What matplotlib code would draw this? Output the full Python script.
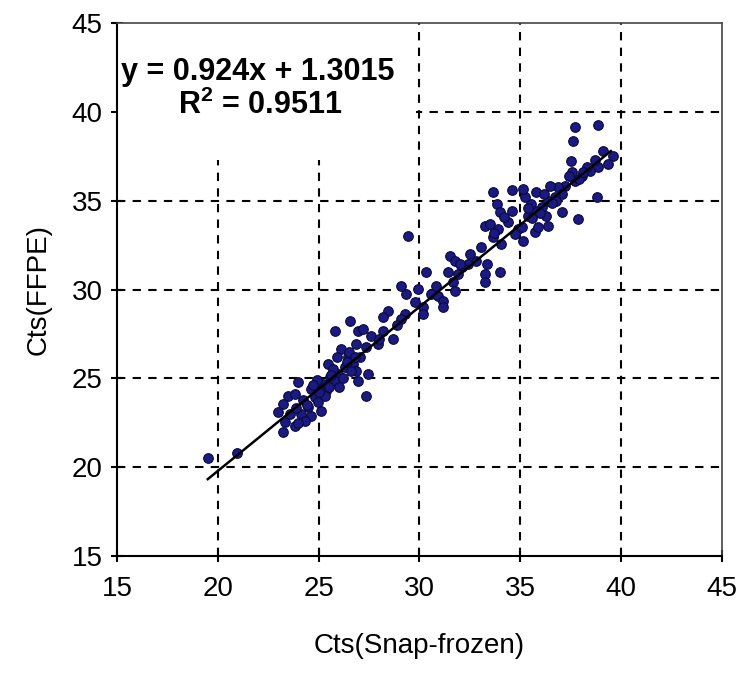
import matplotlib
matplotlib.use("Agg")
import matplotlib.pyplot as plt
from matplotlib.patches import Rectangle
import numpy as np

# Data (Ct values)
snap_frozen = [
    19.5, 20.95,
    37.71, 38.87, 37.63, 37.52, 39.12, 39.62, 39.37, 38.87, 38.46, 38.05,
    37.55, 37.72, 37.20, 36.89, 36.47, 37.05, 36.72, 38.79, 37.05, 37.88,
    36.39, 36.06, 36.30, 36.39, 35.73, 35.56, 35.23, 35.15, 34.57, 35.40,
    35.73, 35.90, 34.90, 34.74, 35.15, 35.07, 33.66, 33.83, 33.99, 33.25,
    33.49, 33.90, 33.66, 34.07, 33.08, 32.83, 33.33, 33.25, 33.25, 33.99,
    32.42, 32.09, 31.50, 31.75, 32.00, 31.92, 31.67, 31.75, 30.35, 29.44,
    29.10, 29.35, 29.93, 29.77, 30.18, 30.60, 30.93, 31.18, 31.18, 30.18,
    29.27, 29.10, 28.44, 28.20, 28.69, 28.20, 27.95, 27.62, 27.37, 27.45,
    27.37, 26.95, 26.54, 26.87, 25.79, 26.13, 26.46, 26.70, 27.04, 26.87,
    26.95, 26.29, 25.96, 25.46, 25.55, 25.20, 25.79, 24.97, 24.80, 25.38,
    23.97, 23.48, 23.81, 23.23, 22.98, 23.31, 23.81, 24.14, 24.47, 24.64,
    24.97, 25.13, 24.30, 23.23,
    24.2, 24.6, 25.3, 25.7, 26.2, 26.5, 25.9, 26.0, 24.9, 23.6, 24.0, 25.5,
    26.8, 27.2, 35.8, 36.8, 36.2, 37.4, 38.3, 34.4, 35.4, 32.5, 31.4, 30.8,
    28.9, 28.0, 33.7, 34.2, 36.6, 38.7,
    24.4, 25.0, 25.6, 26.4, 26.6, 23.9, 24.7, 36.0, 35.6, 37.9, 38.1, 34.6,
]
ffpe = [
    20.5, 20.8,
    39.13, 39.28, 38.34, 37.25, 37.81, 37.53, 37.06, 36.88, 36.69, 36.41,
    36.60, 36.10, 35.84, 35.75, 35.84, 35.38, 35.19, 35.19, 34.34, 33.97,
    35.00, 34.62, 34.16, 33.60, 34.44, 34.81, 35.19, 35.66, 35.60, 34.16,
    33.22, 33.50, 33.40, 33.12, 32.75, 33.50, 35.47, 34.81, 34.34, 33.60,
    33.69, 33.40, 32.94, 32.56, 32.37, 31.62, 31.44, 30.87, 30.40, 30.97,
    31.44, 31.25, 31.90, 31.62, 31.43, 30.87, 30.40, 29.93, 30.97, 33.03,
    30.22, 29.75, 30.03, 29.28, 29.00, 29.75, 29.65, 29.37, 29.00, 28.62,
    28.62, 28.34, 28.81, 28.43, 27.21, 27.68, 26.93, 27.40, 26.74, 25.24,
    24.02, 27.68, 28.25, 26.93, 27.68, 26.65, 26.18, 25.80, 26.18, 25.43,
    24.87, 25.62, 25.24, 25.80, 25.06, 24.68, 24.87, 24.31, 23.93, 24.31,
    24.78, 24.03, 24.12, 23.56, 23.09, 22.52, 22.34, 22.99, 23.37, 22.90,
    23.65, 23.18, 22.62, 21.96,
    23.8, 24.4, 24.0, 25.5, 25.0, 26.5, 26.2, 24.5, 24.9, 23.0, 22.5, 24.5,
    26.2, 27.8, 35.5, 35.0, 35.4, 36.4, 36.9, 33.8, 34.6, 32.0, 31.0, 30.2,
    28.0, 27.2, 33.2, 34.1, 34.9, 37.3,
    23.5, 24.2, 25.2, 25.9, 25.4, 23.3, 24.6, 34.3, 34.0, 36.2, 36.6, 34.4,
]
fit_slope = 0.924
fit_intercept = 1.3015
fit_range = [19.5, 39.5]
ticks = [15, 20, 25, 30, 35, 40, 45]
equation = "y = 0.924x + 1.3015"
r2_text = "R$^2$ = 0.9511"
x_label = "Cts(Snap-frozen)"
y_label = "Cts(FFPE)"

plt.rcParams['font.family'] = ['Liberation Sans', 'DejaVu Sans']
plt.rcParams['mathtext.default'] = 'regular'

fig = plt.figure(figsize=(7.41, 6.82), dpi=100)
ax = fig.add_axes([0.158, 0.185, 0.816, 0.781])

ax.set_xlim(15, 45)
ax.set_ylim(15, 45)
ax.set_xticks(ticks)
ax.set_yticks(ticks)

# grid
for t in ticks[1:-1]:
    ax.axvline(t, color='black', lw=1.5, ls=(0, (4, 3.5)), zorder=1)
    ax.axhline(t, color='black', lw=1.5, ls=(0, (4, 3.5)), zorder=1)

# white label box (hides grid under the equation, as in the original)
ax.add_patch(Rectangle((15, 37.3), 14.85, 7.7, facecolor='white',
                       edgecolor='none', zorder=2))

ax.scatter(snap_frozen, ffpe, s=48, facecolor='#1a1a82', edgecolor='#0a0a3a',
           linewidths=0.8, zorder=3)

xf = np.array(fit_range)
ax.plot(xf, fit_slope * xf + fit_intercept, color='black', lw=1.8, zorder=4)

for sp in ax.spines.values():
    sp.set_color('black')
    sp.set_linewidth(1.5)
    sp.set_zorder(6)
ax.spines['top'].set_color('#444444')
ax.spines['right'].set_color('#444444')
ax.spines['top'].set_linewidth(1.2)
ax.spines['right'].set_linewidth(1.2)

ax.tick_params(axis='both', direction='inout', length=9, width=1.5,
               labelsize=20, colors='black')
ax.tick_params(axis='x', pad=10)
ax.tick_params(axis='y', pad=6)

ax.set_xlabel(x_label, fontsize=20, labelpad=22)
ax.set_ylabel(y_label, fontsize=20, labelpad=14)

ax.text(15.2, 42.25, equation, fontsize=22, fontweight='bold',
        ha='left', va='center', zorder=5)
ax.text(18.0, 40.35, r2_text, fontsize=22, fontweight='bold',
        ha='left', va='center', zorder=5)

fig.savefig("out.png", dpi=100)
